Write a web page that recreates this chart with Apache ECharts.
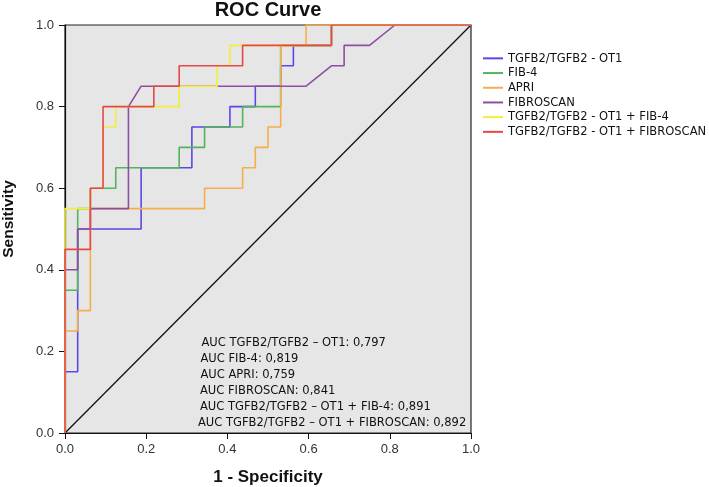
<!DOCTYPE html>
<html><head><meta charset="utf-8">
<script src="https://cdn.jsdelivr.net/npm/echarts@6/dist/echarts.min.js"></script>
<style>html,body{margin:0;padding:0;background:#fff}#c{width:709px;height:487px}</style>
</head><body><div id="c"></div>
<script>
// ---- data (FPR = 1 - specificity, TPR = sensitivity) ----
const seriesNames = [
  'TGFB2/TGFB2 - OT1',
  'FIB-4',
  'APRI',
  'FIBROSCAN',
  'TGFB2/TGFB2 - OT1 + FIB-4',
  'TGFB2/TGFB2 - OT1 + FIBROSCAN'
];
const tgfbPoints = [[0,0],[0,0.15],[0.03125,0.15],[0.03125,0.5],[0.1875,0.5],[0.1875,0.65],[0.3125,0.65],[0.3125,0.75],[0.40625,0.75],[0.40625,0.8],[0.46875,0.8],[0.46875,0.85],[0.53125,0.85],[0.53125,0.9],[0.5625,0.9],[0.5625,0.95],[0.65625,0.95],[0.65625,1],[1,1]];
const fib4Points = [[0,0],[0,0.35],[0.03125,0.35],[0.03125,0.55],[0.0625,0.55],[0.0625,0.6],[0.125,0.6],[0.125,0.65],[0.28125,0.65],[0.28125,0.7],[0.34375,0.7],[0.34375,0.75],[0.4375,0.75],[0.4375,0.8],[0.53125,0.8],[0.53125,0.95],[0.65625,0.95],[0.65625,1],[1,1]];
const apriPoints = [[0,0],[0,0.25],[0.03125,0.25],[0.03125,0.3],[0.0625,0.3],[0.0625,0.55],[0.34375,0.55],[0.34375,0.6],[0.4375,0.6],[0.4375,0.65],[0.46875,0.65],[0.46875,0.7],[0.5,0.7],[0.5,0.75],[0.53125,0.75],[0.53125,0.95],[0.59375,0.95],[0.59375,1],[1,1]];
const fibroscanPoints = [[0,0],[0,0.4],[0.03125,0.4],[0.03125,0.5],[0.0625,0.5],[0.0625,0.55],[0.15625,0.55],[0.15625,0.8],[0.1875,0.85],[0.59375,0.85],[0.65625,0.9],[0.6875,0.9],[0.6875,0.95],[0.75,0.95],[0.8125,1],[1,1]];
const tgfbFib4Points = [[0,0],[0,0.55],[0.0625,0.55],[0.0625,0.6],[0.09375,0.6],[0.09375,0.75],[0.125,0.75],[0.125,0.8],[0.28125,0.8],[0.28125,0.85],[0.375,0.85],[0.375,0.9],[0.40625,0.9],[0.40625,0.95],[0.65625,0.95],[0.65625,1],[1,1]];
const tgfbFibroscanPoints = [[0,0],[0,0.45],[0.0625,0.45],[0.0625,0.6],[0.09375,0.6],[0.09375,0.8],[0.21875,0.8],[0.21875,0.85],[0.28125,0.85],[0.28125,0.9],[0.4375,0.9],[0.4375,0.95],[0.65625,0.95],[0.65625,1],[1,1]];
const referencePoints = [[0,0],[1,1]];
const aucLabels = [
  'AUC TGFB2/TGFB2 \u2013 OT1: 0,797',
  'AUC FIB-4: 0,819',
  'AUC APRI: 0,759',
  'AUC FIBROSCAN: 0,841',
  'AUC TGFB2/TGFB2 \u2013 OT1 + FIB-4: 0,891',
  'AUC TGFB2/TGFB2 \u2013 OT1 + FIBROSCAN: 0,892'
];

// ---- styling ----
const colors = ['#5a48e6', '#52b45e', '#f5ae4a', '#8e4fa0', '#f2ee3c', '#e64848'];
const NARROW = "'DejaVu Sans Condensed','Liberation Sans Narrow',sans-serif";
const SANS = "'Liberation Sans',Arial,Helvetica,sans-serif";
const allPoints = [tgfbPoints, fib4Points, apriPoints, fibroscanPoints, tgfbFib4Points, tgfbFibroscanPoints];

const chart = echarts.init(document.getElementById('c'));

const series = allPoints.map((pts, i) => ({
  name: seriesNames[i], type: 'line', data: pts, symbol: 'none', silent: true,
  lineStyle: {color: colors[i], width: 1.6}, itemStyle: {color: colors[i]}, z: 3 + i
}));
series.unshift({
  name: 'ref', type: 'line', data: referencePoints, symbol: 'none', silent: true,
  lineStyle: {color: '#111', width: 1.3}, z: 2
});

const xLeftOffsets = [1.5, 0.5, 0.5, 0, 0, -2];
chart.setOption({
  animation: false,
  color: colors,
  title: {
    text: 'ROC Curve', left: 268, top: 0, padding: 0, textAlign: 'center',
    textStyle: {fontFamily: SANS, fontSize: 20, fontWeight: 'bold', color: '#111'}
  },
  grid: {
    left: 65, top: 25, width: 406, height: 408, outerBoundsMode: 'none', containLabel: false,
    show: true, backgroundColor: '#e6e6e6', borderColor: '#222', borderWidth: 1.2
  },
  legend: {
    orient: 'vertical', left: 483, top: 51, padding: 0, itemWidth: 20, itemHeight: 2, itemGap: 0,
    icon: 'rect', selectedMode: false,
    data: seriesNames,
    textStyle: {fontFamily: NARROW, fontSize: 12.8, color: '#111', lineHeight: 14.7}
  },
  xAxis: {
    type: 'value', min: 0, max: 1, interval: 0.2,
    name: '1 - Specificity', nameLocation: 'middle', nameGap: 36,
    nameTextStyle: {fontFamily: SANS, fontSize: 17, fontWeight: 'bold', color: '#111'},
    axisLine: {show: true, lineStyle: {color: '#111', width: 1.2}},
    axisTick: {show: true, length: 6, lineStyle: {color: '#111'}},
    axisLabel: {formatter: v => v.toFixed(1), fontFamily: SANS, fontSize: 13, color: '#333', margin: 10},
    splitLine: {show: false}
  },
  yAxis: {
    type: 'value', min: 0, max: 1, interval: 0.2,
    name: 'Sensitivity', nameLocation: 'middle', nameGap: 48, nameRotate: 90,
    nameTextStyle: {fontFamily: SANS, fontSize: 15.5, fontWeight: 'bold', color: '#111', padding: [0, 0, 0, 20]},
    axisLine: {show: true, lineStyle: {color: '#111', width: 1.2}},
    axisTick: {show: true, length: 6, lineStyle: {color: '#111'}},
    axisLabel: {formatter: v => v.toFixed(1), fontFamily: SANS, fontSize: 13, color: '#333', margin: 11},
    splitLine: {show: false}
  },
  graphic: aucLabels.map((t, i) => ({
    type: 'text', x: 200 + xLeftOffsets[i], y: 343 + i * 16, z: 100, silent: true,
    style: {text: t, fontFamily: NARROW, fontSize: 12.8, fill: '#111', textVerticalAlign: 'middle', textAlign: 'left'}
  })),
  series: series
});
</script></body></html>
